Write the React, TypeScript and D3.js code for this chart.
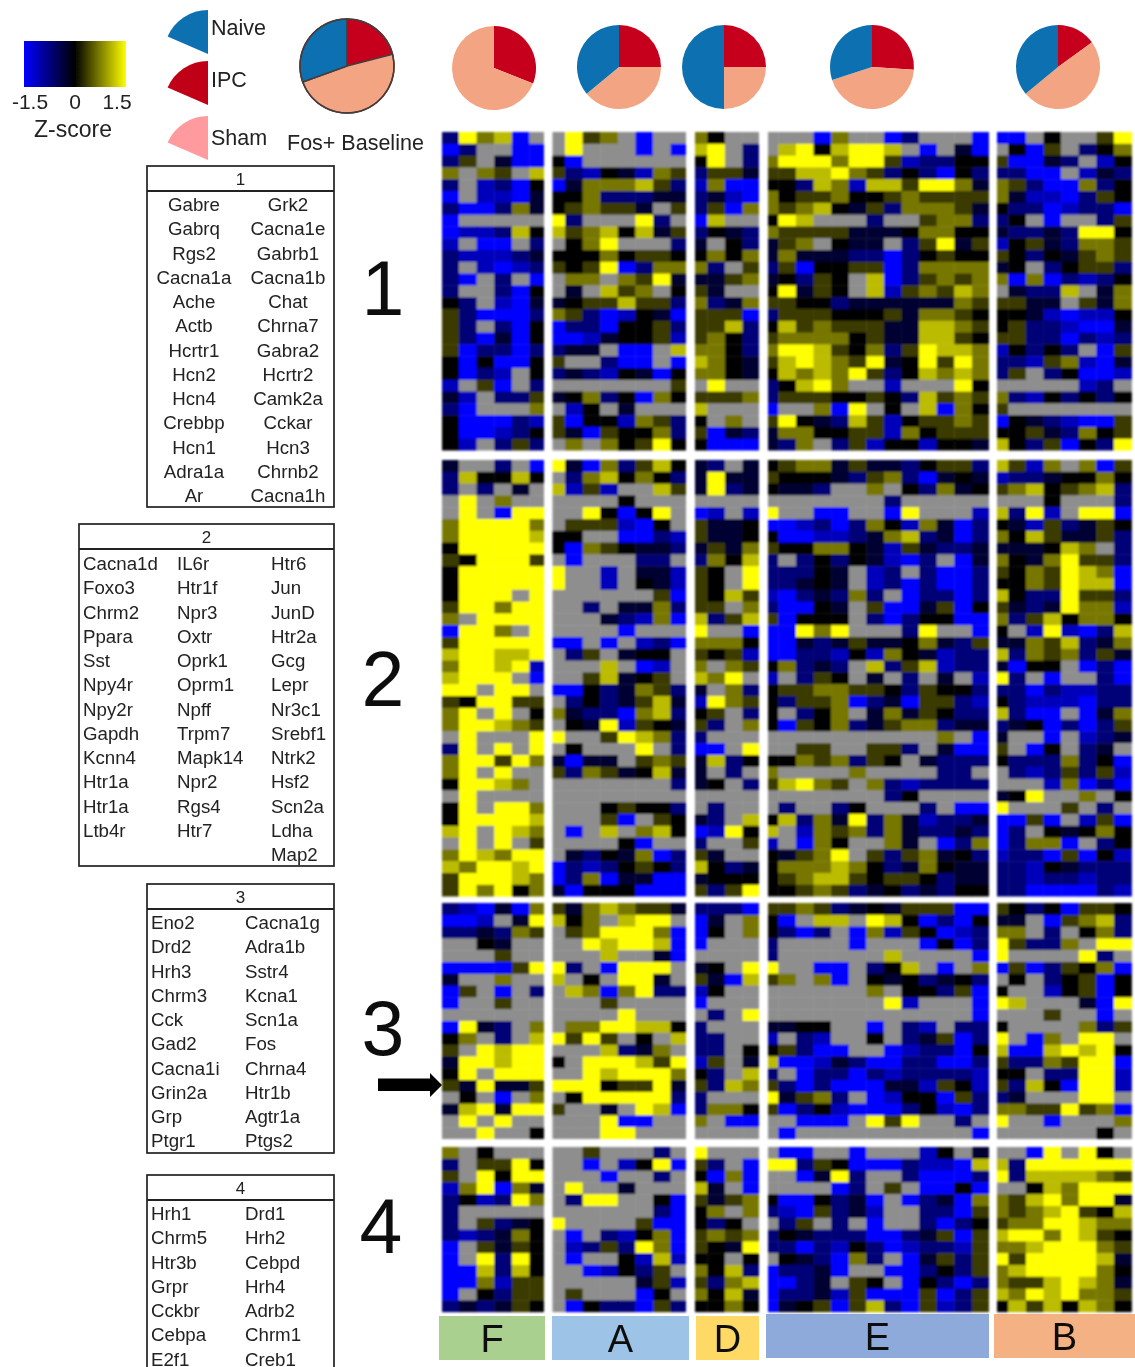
import React from 'react';
import * as d3 from 'd3';

// cell codes: g = no data, the rest are z-score steps
const zByCode: Record<string, number> = { B: -1.5, b: -1.1, n: -0.7, d: -0.3, k: 0, o: 0.35, m: 0.7, y: 1.1, Y: 1.5 };

const c1F = ['nYmyBg','BnggBB','nogdBB','mgmogy','ngbnBk','BgbbBd','nBBnmd','Bggggg','Bbbnyk','bgBBgn','nbbbnd','ngbBbn','nBgngB','nggnBk','kngbBd','onBBBn','ongnBk','onBdBk','oBnnBn','kBkBBk','kBnbgk','bgoBgn','dbgnno','nBgggm','kBBBnb','kBBbnk','kbgnon'];
const c1A = ['gYomgBgg','gYgggBgB','kBgggggg','onbkdbmo','Bdmmmyon','kkmnnndd','komoodgo','YngggYng','yomykydo','gkmYgggn','kkkmkook','okoYBnmm','gmmgmoYd','gdgyomgk','dkooyoon','monBbkdB','BnnBkkon','BBbdkkob','nddgBBgy','oggnBBgB','ndnbkdBk','gggggggo','dkmnkBmk','gbkgdggg','oBkkbmon','odBokkmn','gmgmkoYk'];
const c1D = ['mkgg','yYgn','kYgn','nood','bmBB','ndbB','noBm','Bygg','nkdn','dgkn','kmkm','mngo','ddom','odgg','mndm','oooB','ooyn','omkn','mmkn','ymkd','mmkd','gYgg','ooom','yggg','kgmg','oBdn','kBBB'];
const c1E = ['gggBmggBngggB','gyYkyYYygBgdB','mYYYmYYobnnkk','ooyyYmonknBkn','kknymbyyoYYmd','mkoomkkomoooo','momykdonmmmod','kYygggnggommn','moooodddkmmkk','domgkddgnoYdo','dmdddnnBnkokk','noBkkooBnmmmm','dknokgyBnomom','kYdokgybomoym','ookknddddddmo','noookkkodmmok','kyomooodd'+'yymo','ommmmkoddyyok','mYYyokmnoYyym','oyYymoYdkYoYm','kymymYonkymym','nkyYmggbgggYk','noookkoknyomo','BggmBYgkgyBmk','oYkdnyobkoomo','dmmkkoobmkooo','dnmgnobkkbkkd'];
const c1B = ['BBgkggoY','gkBognkm','oBBdngbk','nnBBgbdn','monBBmnk','mdbbBnok','knnBbnnB','nkgBggno','dnndnYYk','bkodnmmo','oknkdomo','dkgnkoon','mBmBnbnk','gdnnygdm','ooddgodm','kkdbBbbk','konnbBBd','oonnBnbn','bknkngBo','nnbombBd','nognkBBb','gggggbng','mnbknknk','oggggggg','BkdnbBBo','kkodnmko','yknoBknY'];

const c2F = ['dggngB','nykkyk','ngngdg','gYgmgg','gYgBYY','mYYYYm','mYYYYy','kYYYYY','okYYYo','kYYYYY','kYYYYY','kYYYgY','oYYmYY','mgYYYY','BYYmgY','oYYYYY','yYYyyY','mYYyYb','yYYYgB','YYgYYg','okYYoo','mYgYgk','mYYymo','gYgggY','nYgYgY','mYYoYm','mYgYgg','kYYymg','gYgggg','kYgYYm','kYYYYy','yYgYym','gYgYgo','mYymYY','ymYYyY','oYYYym','oYmYkm'];
const c2A = ['YdBmnoyk','gnmykmkn','ybobggyo','ggggkggg','ggYkBkYg','gooobBkg','kkggBBnb','kBmokddn','gBgggnng','Yggbgddb','Yggbgkdb','ggggggoB','ggngddmn','gggdnbmB','ggggBggg','BBgBgbnB','gnogdkkg','gggygBbg','ggoydkog','BBkndmon','gnkndoyd','mdnnBmyn','gkdYbokd','YggoYymn','gkgggYgn','dBddgomo','onmodkyd','gggggggn','gggggggg','gggkokkn','gggoBgok','gBgygmyk','ggggkBgg','gdnkdmBn','Bnbnkokn','BnmBddBB','dBkkkBBB'];
const c2D = ['dngd','dYdd','dYnd','gggg','Bbgb','oddk','oddk','dodm','nmky','okgY','okgY','okyo','oogm','ynoy','YggB','mmmk','okob','mgmo','ymYg','dgmn','bYmo','kogn','ongm','nggg','BBgY','dynk','dgng','dkgn','gggg','gngg','dngy','BbYk','nggo','odgg','yknd','dkkk','onoY'];
const c2E = ['kommdoddnkoon','okkkdnomnBdkd','kddnggmgknmdk','gggggggnggggg','YggBBggBYgggb','BBbnBnmkbmdBn','kBBbbndmyndBn','okkmmkdbodnnd','ngnknkdbBngBd','nnnkdgbngnBBn','nndkdgbnBnBBn','bBndnmngBnnBn','nBBkdgoBBdoBk','oBkkkgnBnkkBB','BBYmYgggnYggB','BBdndoddkmdno','BBnnbkbmkdbnn','kmndngynoybnn','bgnokgdgngdgb','koommooknokkn','knoomBndBoonb','kgnkmgdmdoknn','kBokmndommndd','ggggggggggmgB','ggooggoongdBB','kkmomnokgdnnn','mggggmggggnng','oyYmogmnbnnnn','gggggggnkgggg','gnggnkgggngBB','kynmdYnmdbnnd','ygbmomnmdnndn','bgBmkggmdgBnm','kdomYgonomdkn','kmmmymkndmkdd','komyyokookndd','kkomondkndnkk'];
const c2B = ['yobmgmBo','bnndkkmk','omykomyn','gggkgggn','ynYbgYYB','kdbondok','mkyoddon','dddkymgn','mkdmYoon','okmoYymB','kkmoYyyB','yknnYoon','odndYmmb','mnoykmmk','kgbYbBny','ddmoyndm','ynmomnod','dBkkgBnB','YngBggnB','nnBnbbnn','knbbbBnn','ynBBgBdm','ndkBnBno','dggBgbnd','ogBkgndg','knnnmnkB','gnbnonob','gggbmBnB','dkYggmgk','Ygggogng','BBoBgboB','Bngkdkmk','BnmmBgnk','bnnBoBkb','nnbkdnnn','nnbnnbnn','nnBBBBnb'];

const c3F = ['nbBdBm','BBbgdY','nndnmo','ggkdgg','gggogg','BBBBoY','dggmgg','BogBgn','Bggogg','gggggg','BYdngm','kmgngy','ogYyYY','dYYyYY','kYgYYY','odYddo','gkgBgm','dyYdYY','gYgYgg','ggYggk'];
const c3A = ['odmymood','ykmgyYYg','gomYYYmB','ggYyYYyB','gggyggdB','YngBYYYg','ygkgYYdg','gymBmYnn','gggogggg','ggggYggg','gmmYYyyk','YoYogkgy','gggyndmg','kgYYYyoY','ggYyYYYm','YYYkooYd','gkYYYYYn','oggdgYyB','gggYBBgg','gggYYggg'];
const c3D = ['nnnB','Bdgm','Bkgm','Bggg','gggg','dkgY','odBy','bkgg','Bggg','gngY','nggg','nngg','nngk','bogd','kngy','onym','nggg','nmmk','mgBB','gggg'];
const c3E = ['oomondkdoooBB','kBgyygYykBnBk','knBngBmbokBbn','nggggBgggBkBn','nggggggyggggB','YggBBgnkygBgm','omgmBgkdkndkn','ggggggmgkknoB','gggggggYbgggB','ggggggggggggB','ddkkggBgnbgnn','bgnbggkgndoBn','konBBggBbnnBk','yBBbdnBBnnBBn','ngBnnBnbnnnnb','onBnBBBddbokb','YdomngBbkkBon','oBnkbBBBnkbBn','ggBBBgYoYggng','gBggggggggggB'];
const c3B = ['oknkBook','ddgBomyn','mmgngkmn','YonnmgYY','YggggYng','BoBnokmB','gkgnkoBk','kggbkoBk','YygggdBY','gggoggBg','kggggmno','YgBmgYYg','yBByYyYk','onnmoYYB','kkgnnYYb','onykBYYb','ndgggYYg','mmooYomB','YggBgggm','ggggggkg'];

const c4F = ['mgkggg','ngooYk','ogYkYY','bmYBmd','nkbnYm','nggggg','ngondk','nbndmk','Bgodok','BgYnYk','BBynyk','BBmboo','Bgknoo','ndndok'];
const c4A = ['ggogggng','ggBgbkYB','gggBggng','gYggdggg','gnYYggkB','ggggggnB','YggggoBB','gBgnbkmB','gbnonYmB','gBggkbyb','ggBbknog','gggggdob','gogggBkg','gBknnBon'];
const c4D = ['Yggg','ongB','kBmB','ydgB','odom','kmgm','knkg','omom','okdY','kkgk','mkyn','onmy','mkyd','kkmk'];
const c4E = ['gBBggBgggbkgd','YYnokBBBnbbBy','ggBdYnggnBBBn','ggggBngogBBkB','kBBkndBgBndBm','nbBondbggnnBo','gnogngBggnBnk','nkdnnnBBndoBo','nnBnbknBbnnbo','gkdnBmngBdono','BnndBggBBnkno','BBndgokgBknBn','BnndboBBBoBno','BdkoBoynBobno'];
const c4B = ['ggBYgYkg','ynYYYYYY','Ynyyyymo','ggkymYYY','moyYmYYd','momyYoky','ommYYymm','yYYmYyok','mmyYYYmo','YoYYYYyd','myYYYYmk','mooyYymd','ymYyYmmo','kyoykymk'];

const clusterRows = [
  [c1F, c1A, c1D, c1E, c1B],
  [c2F, c2A, c2D, c2E, c2B],
  [c3F, c3A, c3D, c3E, c3B],
  [c4F, c4A, c4D, c4E, c4B],
];
const clusterNames = ['1', '2', '3', '4'];

// pie shares: IPC, Sham, Naive
const pieKeys = ['IPC', 'Sham', 'Naive'];
const baselineShare = [0.21, 0.485, 0.305];
const pieF = [0.31, 0.69, 0];
const pieA = [0.25, 0.39, 0.36];
const pieD = [0.25, 0.25, 0.5];
const pieE = [0.26, 0.44, 0.3];
const pieB = [0.15, 0.49, 0.36];

const genes1 = [['Gabre','Gabrq','Rgs2','Cacna1a','Ache','Actb','Hcrtr1','Hcn2','Hcn4','Crebbp','Hcn1','Adra1a','Ar'],['Grk2','Cacna1e','Gabrb1','Cacna1b','Chat','Chrna7','Gabra2','Hcrtr2','Camk2a','Cckar','Hcn3','Chrnb2','Cacna1h']];
const genes2 = [['Cacna1d','Foxo3','Chrm2','Ppara','Sst','Npy4r','Npy2r','Gapdh','Kcnn4','Htr1a','Htr1a','Ltb4r'],['IL6r','Htr1f','Npr3','Oxtr','Oprk1','Oprm1','Npff','Trpm7','Mapk14','Npr2','Rgs4','Htr7'],['Htr6','Jun','JunD','Htr2a','Gcg','Lepr','Nr3c1','Srebf1','Ntrk2','Hsf2','Scn2a','Ldha','Map2']];
const genes3 = [['Eno2','Drd2','Hrh3','Chrm3','Cck','Gad2','Cacna1i','Grin2a','Grp','Ptgr1'],['Cacna1g','Adra1b','Sstr4','Kcna1','Scn1a','Fos','Chrna4','Htr1b','Agtr1a','Ptgs2']];
const genes4 = [['Hrh1','Chrm5','Htr3b','Grpr','Cckbr','Cebpa','E2f1'],['Drd1','Hrh2','Cebpd','Hrh4','Adrb2','Chrm1','Creb1']];

const FONT = '"Liberation Sans", Arial, sans-serif';
const cellW = 17.6;
const rowH = 11.8;
const clusterTop = [132, 460, 903, 1147];
const panelClip = [[442, 544], [552.5, 686], [695, 759], [768, 989], [997, 1133]];
const gridStart = [441.4, 547.4, 689.7, 760.7, 990.7];
const missing = '#8e8e8e';

const zColor = d3.scaleLinear<string>().domain([-1.5, 0, 1.5]).range(['#0000ff', '#000000', '#ffff00']);
const pieColor = d3.scaleOrdinal<string>().domain(pieKeys).range(['#c6001f', '#f3a583', '#0b70b0']);

const Pie = ({ cx, cy, r, share, stroke }: { cx: number; cy: number; r: number; share: number[]; stroke?: string }) => {
  const arcs = d3.pie<number>().sort(null).value(d => d)(share);
  const arc = d3.arc<d3.PieArcDatum<number>>().innerRadius(0).outerRadius(r);
  return (
    <g transform={`translate(${cx},${cy})`}>
      {arcs.map((a, i) => (
        <path key={i} d={arc(a) || ''} fill={pieColor(pieKeys[i])} stroke={stroke || 'none'} strokeWidth={stroke ? 1.5 : 0} />
      ))}
      {stroke && <circle r={r} fill="none" stroke={stroke} strokeWidth={1.5} />}
    </g>
  );
};

const Wedge = ({ y, color }: { y: number; color: string }) => {
  const d = d3.arc()({ innerRadius: 0, outerRadius: 44, startAngle: -Math.PI * 0.37, endAngle: 0 }) || '';
  return <path d={d} transform={`translate(208,${y})`} fill={color} />;
};

const GeneTable = ({ title, x0, x1, top, bottom, columns, colX, anchor, firstY }: {
  title: string; x0: number; x1: number; top: number; bottom: number; columns: string[][]; colX: number[]; anchor: string; firstY: number;
}) => (
  <g fontFamily={FONT} fill="#222">
    <rect x={x0} y={top} width={x1 - x0} height={bottom - top} fill="#fff" stroke="#222" strokeWidth={1.7} />
    <line x1={x0} x2={x1} y1={top + 25} y2={top + 25} stroke="#222" strokeWidth={2} />
    <text x={(x0 + x1) / 2} y={top + 19} textAnchor="middle" fontSize={17}>{title}</text>
    {columns.map((col, c) => col.map((g, i) => (
      <text key={`${c}-${i}`} x={colX[c]} y={firstY + i * 24.27} textAnchor={anchor as any} fontSize={18.7}>{g}</text>
    )))}
  </g>
);

const labelBars = [
  { name: 'F', x0: 439, x1: 545, y0: 1316, y1: 1360, fill: '#a9d08e' },
  { name: 'A', x0: 552, x1: 689, y0: 1316, y1: 1360, fill: '#9dc3e6' },
  { name: 'D', x0: 696, x1: 759, y0: 1316, y1: 1360, fill: '#ffd966' },
  { name: 'E', x0: 766, x1: 989, y0: 1314, y1: 1358, fill: '#8eaadb' },
  { name: 'B', x0: 994, x1: 1135, y0: 1314, y1: 1358, fill: '#f4b183' },
];

export default function App() {
  return (
    <svg width={1135} height={1367} style={{ position: 'absolute', left: 0, top: 0, display: 'block', background: '#fff' }}>
      <defs>
        <linearGradient id="zbar">
          {[-1.5, -0.75, 0, 0.75, 1.5].map(z => (
            <stop key={z} offset={`${((z + 1.5) / 3) * 100}%`} stopColor={zColor(z)} />
          ))}
        </linearGradient>
        <filter id="soft" filterUnits="userSpaceOnUse" x="0" y="0" width="1135" height="1367">
          <feGaussianBlur stdDeviation="1.1" />
        </filter>
        <filter id="softText" filterUnits="userSpaceOnUse" x="0" y="0" width="1135" height="1367">
          <feGaussianBlur stdDeviation="0.45" />
        </filter>
        {clusterRows.map((c, ci) => panelClip.map((p, pi) => (
          <clipPath key={`${ci}-${pi}`} id={`clip-${ci}-${pi}`}>
            <rect x={p[0]} y={clusterTop[ci]} width={p[1] - p[0]} height={c[pi].length * rowH} />
          </clipPath>
        )))}
      </defs>

      <g filter="url(#softText)">
        {/* colour key */}
        <rect x={24} y={41} width={102} height={46} fill="url(#zbar)" />
        <g fontFamily={FONT} fill="#222" fontSize={21} textAnchor="middle">
          <text x={30} y={109}>-1.5</text>
          <text x={75} y={109}>0</text>
          <text x={117} y={109}>1.5</text>
          <text x={73} y={137} fontSize={23}>Z-score</text>
        </g>

        {/* group legend */}
        <Wedge y={54} color="#0b70b0" />
        <Wedge y={105} color="#c00012" />
        <Wedge y={160} color="#ff9a9e" />
        <g fontFamily={FONT} fill="#222" fontSize={21.5}>
          <text x={211} y={35}>Naive</text>
          <text x={211} y={87}>IPC</text>
          <text x={211} y={145}>Sham</text>
          <text x={287} y={150}>Fos+ Baseline</text>
        </g>

        {/* pies */}
        <Pie cx={347} cy={66} r={47} share={baselineShare} stroke="#4a3a3a" />
        <Pie cx={494} cy={68} r={42} share={pieF} />
        <Pie cx={619} cy={67} r={42} share={pieA} />
        <Pie cx={724} cy={67} r={42} share={pieD} />
        <Pie cx={872} cy={67} r={42} share={pieE} />
        <Pie cx={1058} cy={67} r={42} share={pieB} />

        {/* gene tables */}
        <GeneTable title="1" x0={147} x1={334} top={166} bottom={507} columns={genes1} colX={[194, 288]} anchor="middle" firstY={211} />
        <GeneTable title="2" x0={79} x1={334} top={524} bottom={866} columns={genes2} colX={[83, 177, 271]} anchor="start" firstY={570} />
        <GeneTable title="3" x0={147} x1={334} top={884} bottom={1153} columns={genes3} colX={[151, 245]} anchor="start" firstY={929} />
        <GeneTable title="4" x0={147} x1={334} top={1175} bottom={1380} columns={genes4} colX={[151, 245]} anchor="start" firstY={1220} />

        {/* cluster numbers */}
        <g fontFamily={FONT} fill="#111" fontSize={77} textAnchor="middle">
          {clusterNames.map((n, i) => (
            <text key={n} x={[383, 383, 383, 381][i]} y={[315, 706, 1055, 1253][i]}>{n}</text>
          ))}
        </g>
        <path d="M378,1078.5 H430 V1073 L442,1085 L430,1097 V1091 H378 Z" fill="#000" />

        {/* panel labels */}
        {labelBars.map(b => (
          <g key={b.name}>
            <rect x={b.x0} y={b.y0} width={b.x1 - b.x0} height={b.y1 - b.y0} fill={b.fill} />
            <text x={(b.x0 + b.x1) / 2} y={b.y1 - 8} textAnchor="middle" fontFamily={FONT} fontSize={38} fill="#111">{b.name}</text>
          </g>
        ))}
      </g>

      {/* heat map */}
      <g filter="url(#soft)">
        {clusterRows.map((c, ci) => c.map((rows, pi) => {
          const nCols = rows[0].length;
          const x = d3.scaleBand<number>().domain(d3.range(nCols)).range([gridStart[pi], gridStart[pi] + nCols * cellW]);
          const y = d3.scaleBand<number>().domain(d3.range(rows.length)).range([clusterTop[ci], clusterTop[ci] + rows.length * rowH]);
          return (
            <g key={`${ci}-${pi}`} clipPath={`url(#clip-${ci}-${pi})`}>
              {rows.map((row, r) => row.split('').map((code, k) => (
                <rect
                  key={`${r}-${k}`}
                  x={x(k)}
                  y={y(r)}
                  width={x.bandwidth() + 0.4}
                  height={y.bandwidth() + 0.4}
                  fill={code === 'g' ? missing : zColor(zByCode[code])}
                />
              )))}
            </g>
          );
        }))}
      </g>
    </svg>
  );
}
